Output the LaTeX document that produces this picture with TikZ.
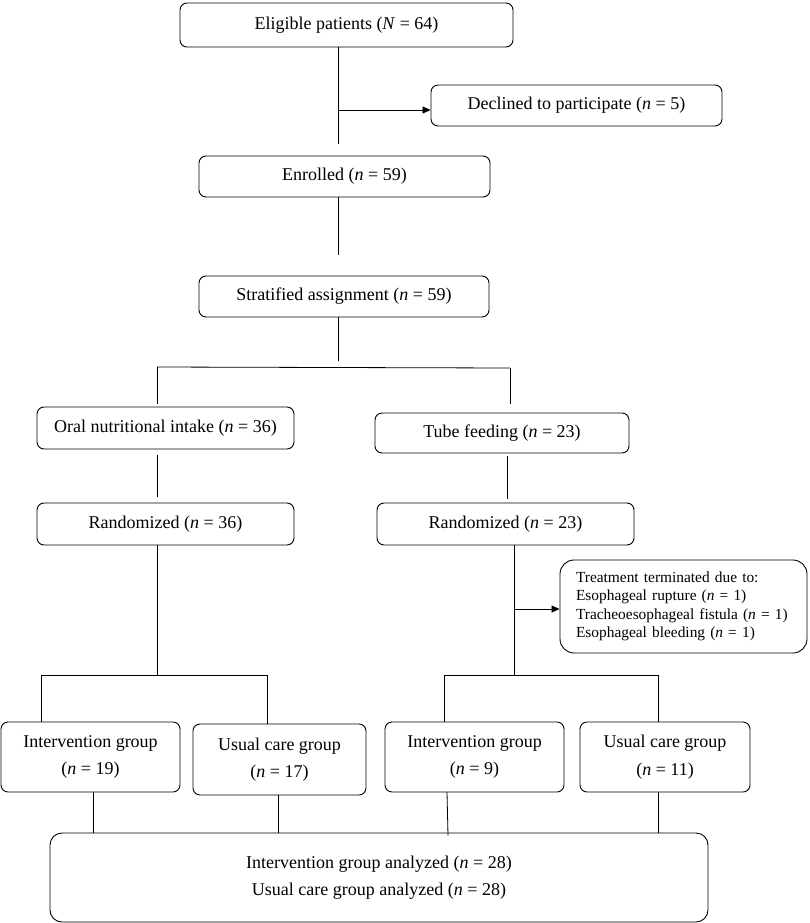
\documentclass[tikz,border=0pt]{standalone}
\usepackage{fontspec}
\setmainfont{Liberation Serif}
\usetikzlibrary{arrows.meta}
\begin{document}
\begin{tikzpicture}[x=1pt,y=-1pt,
  box/.style={draw, line width=0.9pt, rounded corners=7pt, inner sep=0pt, align=center,
    font=\fontsize{18}{27.5}\selectfont},
  conn/.style={line width=0.8pt},
  arr/.style={line width=0.8pt, -{Triangle[length=8pt,width=7pt]}}]
\useasboundingbox (0,0) rectangle (810,923);

% boxes
\node[box, minimum width=333pt, minimum height=44pt] (elig) at (346.5,25) {Eligible patients (\textit{N} = 64)};
\node[box, minimum width=291pt, minimum height=41pt] (decl) at (576.5,105.5) {Declined to participate (\textit{n} = 5)};
\node[box, minimum width=291pt, minimum height=41pt] (enr) at (344.5,176.5) {Enrolled (\textit{n} = 59)};
\node[box, minimum width=290pt, minimum height=41pt] (strat) at (344,296.5) {Stratified assignment (\textit{n} = 59)};
\node[box, minimum width=257pt, minimum height=42pt] (oral) at (165.5,428) {Oral nutritional intake (\textit{n} = 36)};
\node[box, minimum width=254pt, minimum height=40pt] (tube) at (502,433) {Tube feeding (\textit{n} = 23)};
\node[box, minimum width=257pt, minimum height=42pt] (randL) at (165.5,524) {Randomized (\textit{n} = 36)};
\node[box, minimum width=257pt, minimum height=42pt] (randR) at (505.5,524) {Randomized (\textit{n} = 23)};
\node[box, rounded corners=14pt, minimum height=93pt, text width=215pt, inner xsep=16pt, align=left,
  font=\fontsize{15.4}{18.5}\selectfont] (treat) at (683.5,606.5)
  {Treatment terminated due to:\\Esophageal rupture (\textit{n} = 1)\\Tracheoesophageal fistula (\textit{n} = 1)\\Esophageal bleeding (\textit{n} = 1)};
\node[box, minimum width=179pt, minimum height=70pt] (ig1) at (90.5,757) {Intervention group\\(\textit{n} = 19)};
\node[box, minimum width=173pt, minimum height=71pt] (uc1) at (279.5,759.5) {Usual care group\\(\textit{n} = 17)};
\node[box, minimum width=179pt, minimum height=70pt] (ig2) at (474.5,757) {Intervention group\\(\textit{n} = 9)};
\node[box, minimum width=170pt, minimum height=70pt] (uc2) at (665,757) {Usual care group\\(\textit{n} = 11)};
\node[box, rounded corners=12pt, minimum width=658pt, minimum height=89pt] (final) at (379,877.5)
  {Intervention group analyzed (\textit{n} = 28)\\Usual care group analyzed (\textit{n} = 28)};

% junction coordinates
\coordinate (c1) at (338,110);
\coordinate (c2) at (338,361);
\coordinate (hL) at (157,367);
\coordinate (hR) at (510,368);
\coordinate (oc) at (157,455);
\coordinate (tc) at (507,456);
\coordinate (lc) at (157,675);
\coordinate (rc) at (514,675);
\coordinate (rarr) at (514,609);
\coordinate (l1) at (41,675);
\coordinate (l2) at (267,675);
\coordinate (r1) at (444,675);
\coordinate (r2) at (658,675);
\coordinate (b1) at (93,792);
\coordinate (b2) at (278,795);
\coordinate (b3) at (447,792);
\coordinate (b4) at (658,792);

% connectors
\draw[conn] (elig.south -| c1) -- ([yshift=12pt]enr.north -| c1);
\draw[arr] (c1) -- (c1 -| decl.west);
\draw[conn] (enr.south -| c1) -- ([yshift=21pt]strat.north -| c1);
\draw[conn] (strat.south -| c2) -- (c2);
\draw[conn] (hL) -- (hR);
\draw[conn] (hL) -- ([yshift=3pt]oral.north -| hL);
\draw[conn] (hR) -- ([yshift=9pt]tube.north -| hR);
\draw[conn] (oc) -- ([yshift=6pt]randL.north -| oc);
\draw[conn] (tc) -- ([yshift=4pt]randR.north -| tc);
\draw[conn] (randL.south -| lc) -- (lc);
\draw[conn] (l1) -- (l2);
\draw[conn] (l1) -- (ig1.north -| l1);
\draw[conn] (l2) -- (uc1.north -| l2);
\draw[conn] (randR.south -| rc) -- (rc);
\draw[arr] (rarr) -- (rarr -| treat.west);
\draw[conn] (r1) -- (r2);
\draw[conn] (r1) -- (ig2.north -| r1);
\draw[conn] (r2) -- (uc2.north -| r2);
\draw[conn] (b1) -- (final.north -| b1);
\draw[conn] (b2) -- (final.north -| b2);
\draw[conn] (b3) -- ([yshift=-3pt]final.north -| 448,0);
\draw[conn] (b4) -- (final.north -| b4);
\end{tikzpicture}
\end{document}
